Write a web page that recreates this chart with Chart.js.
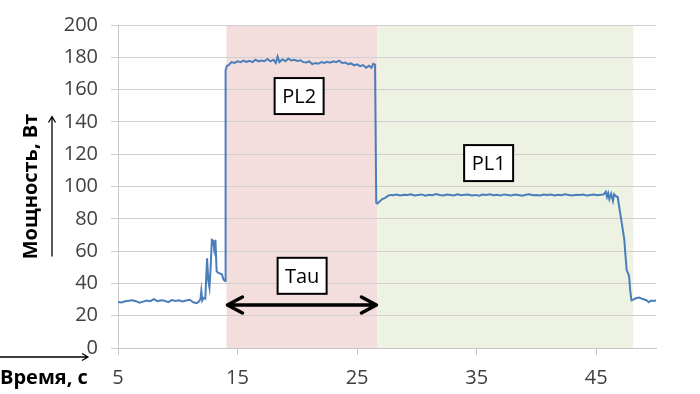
<!DOCTYPE html>
<html>
<head>
<meta charset="utf-8">
<script src="https://cdn.jsdelivr.net/npm/chart.js@4/dist/chart.umd.min.js"></script>
<style>
html,body{margin:0;padding:0;background:#fff;}
#wrap{width:700px;height:394px;}
</style>
</head>
<body>
<div id="wrap"><canvas id="c" width="700" height="394"></canvas></div>
<script>
// ---- data ----
const timeS = [
 5.0,5.3,5.6,5.9,6.2,6.5,6.8,7.1,7.4,7.7,8.0,8.3,8.6,8.9,9.2,9.5,9.8,10.1,10.4,10.7,11.0,11.3,11.6,11.8,
 11.9,11.97,12.05,12.15,12.3,12.45,12.55,12.65,12.75,12.85,12.95,13.05,13.15,13.25,13.4,13.55,13.7,13.82,13.95,
 14.0,14.1,14.3,14.5,14.75,15.0,15.25,15.5,15.75,16.0,16.25,16.5,16.75,17.0,17.25,17.5,17.75,
 18.0,18.2,18.35,18.5,18.75,19.0,19.25,19.5,19.75,20.0,20.25,20.5,20.75,21.0,21.25,21.5,21.75,
 22.0,22.25,22.5,22.75,23.0,23.25,23.5,23.75,24.0,24.25,24.5,24.75,25.0,25.25,25.5,25.75,26.0,26.2,26.35,26.5,
 26.6,26.7,26.9,27.1,27.35,27.6,27.8,
 28.0,28.3,28.6,28.9,29.2,29.5,29.8,30.1,30.4,30.7,31.0,31.3,31.6,31.9,32.2,32.5,32.8,33.1,33.4,33.7,
 34.0,34.3,34.6,34.9,35.2,35.5,35.8,36.1,36.4,36.7,37.0,37.3,37.6,37.9,38.2,38.5,38.8,39.1,39.4,39.7,
 40.0,40.3,40.6,40.9,41.2,41.5,41.8,42.1,42.4,42.7,43.0,43.3,43.6,43.9,44.2,44.5,44.8,45.1,45.4,
 45.6,45.8,45.9,46.0,46.1,46.25,46.4,46.5,46.65,46.8,46.95,47.1,47.25,47.35,47.45,47.55,47.65,47.75,47.85,47.95,
 48.1,48.3,48.6,48.9,49.2,49.4,49.6,49.8,50.0
];
const powerW = [
 28.5,28.2,28.9,29.3,29.6,29.0,28.0,28.7,29.4,29.0,30.3,29.0,29.6,29.2,28.4,29.7,29.1,29.5,28.8,29.4,29.9,28.3,27.8,29.0,
 30.5,35.5,29.5,31.0,30.5,55.5,42.0,37.5,50.0,67.0,66.5,61.0,67.0,47.5,46.5,46.0,45.5,42.5,41.5,
 172,174.5,175.5,177,176.5,177.5,177,178,177.2,177.8,177,178.5,177.5,178,177.6,179,177.5,
 178.5,176.5,180.5,177,178.8,177.5,179.2,178,178.5,177.8,178.2,177,176.8,177.4,175.8,176.5,176,
 177,176.5,177.2,176.7,177.5,177,177.9,176.5,176.8,175.8,176.2,175,175.6,174.5,175.2,173.6,174.8,173.5,176,175.5,
 90,89.5,90.8,92.2,93,94.3,94.8,
 94.6,95.0,94.4,94.9,94.7,95.2,94.5,94.8,95.1,94.3,94.9,94.6,95.3,94.7,94.5,95.0,94.8,94.4,95.2,94.6,
 94.9,95.1,94.5,94.8,94.3,95.0,94.7,95.2,94.6,94.9,94.4,95.1,94.8,94.5,95.0,94.7,94.3,94.9,95.2,94.6,
 94.8,94.4,95.0,94.7,95.1,94.5,94.9,94.6,95.2,94.8,94.4,94.9,94.7,95.0,94.5,94.8,95.1,94.6,94.9,
 95.0,96.8,93.5,95.8,92.2,95.5,91.0,95.2,94.0,93.5,86,79,72,67,57,48,46.5,44.5,35,29.5,
 30,30.8,31.2,30.3,29.6,28.3,29.4,29.1,29.5
];
const xTicks = [5, 15, 25, 35, 45];
const yTickStep = 20;
const bandStart = [14.07, 26.7];
const bandEnd = [26.7, 48.1];
const bandLabels = ['PL2', 'PL1'];
const tauRange = [14.07, 26.7];
const xTitle = 'Время, с';
const yTitle = 'Мощность, Вт';

const FONT = '"Open Sans", "DejaVu Sans", sans-serif';
const bandColors = ['#f4dedd', '#edf2e2'];

const bandsPlugin = {
  id: 'bands',
  beforeDraw(chart) {
    const {ctx, chartArea: a, scales: {x}} = chart;
    ctx.save();
    bandStart.forEach((s, i) => {
      const x0 = x.getPixelForValue(s), x1 = x.getPixelForValue(bandEnd[i]);
      ctx.fillStyle = bandColors[i];
      ctx.fillRect(x0, a.top, x1 - x0, a.bottom - a.top);
    });
    ctx.restore();
  }
};

function box(ctx, cx, cy, text) {
  const w = 49, h = 36;
  ctx.fillStyle = '#fff';
  ctx.fillRect(cx - w/2, cy - h/2, w, h);
  ctx.strokeStyle = '#000';
  ctx.lineWidth = 2;
  ctx.strokeRect(cx - w/2, cy - h/2, w, h);
  ctx.fillStyle = '#000';
  ctx.font = '20px ' + FONT;
  ctx.textAlign = 'center';
  ctx.textBaseline = 'middle';
  ctx.fillText(text, cx, cy + 1);
}

const annotPlugin = {
  id: 'annot',
  afterDatasetsDraw(chart) {
    const {ctx, scales: {x, y}} = chart;
    ctx.save();
    box(ctx, x.getPixelForValue(20.15), y.getPixelForValue(156), bandLabels[0]);
    box(ctx, x.getPixelForValue(36.0), y.getPixelForValue(114.5), bandLabels[1]);
    box(ctx, x.getPixelForValue(20.4), y.getPixelForValue(44.7), 'Tau');
    const ay = y.getPixelForValue(26.6);
    const x0 = x.getPixelForValue(tauRange[0]), x1 = x.getPixelForValue(tauRange[1]);
    ctx.strokeStyle = '#000';
    ctx.lineWidth = 3.5;
    ctx.lineCap = 'round';
    ctx.lineJoin = 'round';
    ctx.beginPath();
    ctx.moveTo(x0 + 1, ay); ctx.lineTo(x1 - 1, ay);
    ctx.moveTo(x0 + 16, ay - 8); ctx.lineTo(x0 + 1, ay); ctx.lineTo(x0 + 16, ay + 8);
    ctx.moveTo(x1 - 16, ay - 8); ctx.lineTo(x1 - 1, ay); ctx.lineTo(x1 - 16, ay + 8);
    ctx.stroke();
    ctx.restore();
  },
  afterDraw(chart) {
    const {ctx, chartArea: a} = chart;
    ctx.save();
    ctx.fillStyle = '#000';
    ctx.strokeStyle = '#000';
    ctx.font = 'bold 20px ' + FONT;
    const cy = (a.top + a.bottom) / 2;
    ctx.save();
    ctx.translate(31, cy);
    ctx.rotate(-Math.PI / 2);
    ctx.textAlign = 'center';
    ctx.textBaseline = 'middle';
    ctx.fillText(yTitle, 0, 0);
    ctx.restore();
    ctx.lineWidth = 1.3;
    ctx.beginPath();
    ctx.moveTo(52, cy + 70); ctx.lineTo(52, cy - 70);
    ctx.moveTo(48.5, cy - 64); ctx.lineTo(52, cy - 70); ctx.lineTo(55.5, cy - 64);
    ctx.stroke();
    ctx.textAlign = 'left';
    ctx.textBaseline = 'middle';
    ctx.fillText(xTitle, 0, 378);
    ctx.beginPath();
    ctx.moveTo(0, 357); ctx.lineTo(88, 357);
    ctx.moveTo(82, 353.5); ctx.lineTo(88, 357); ctx.lineTo(82, 360.5);
    ctx.stroke();
    ctx.restore();
  }
};

const data = timeS.map((t, i) => ({x: t, y: powerW[i]}));

new Chart(document.getElementById('c'), {
  type: 'line',
  data: {
    datasets: [{
      data: data,
      borderColor: '#4a7ebb',
      borderWidth: 2,
      pointRadius: 0,
      tension: 0,
      fill: false
    }]
  },
  options: {
    responsive: false,
    animation: false,
    events: [],
    layout: {padding: {top: 17, right: 44, left: 0, bottom: 0}},
    plugins: {legend: {display: false}, tooltip: {enabled: false}},
    scales: {
      x: {
        type: 'linear',
        min: 5, max: 50,
        afterBuildTicks: s => { s.ticks = xTicks.map(v => ({value: v})); },
        afterFit: s => { s.height = 46; },
        grid: {drawOnChartArea: false, tickLength: 7, color: '#c6c6c6'},
        border: {display: true, color: '#c6c6c6'},
        ticks: {font: {family: FONT, size: 20}, color: '#404040', padding: 11, maxRotation: 0}
      },
      y: {
        min: 0, max: 200,
        afterFit: s => { s.width = 118; },
        grid: {color: '#cfcfcf', tickLength: 7},
        border: {display: true, color: '#c6c6c6'},
        ticks: {stepSize: yTickStep, font: {family: FONT, size: 20}, color: '#404040', padding: 13}
      }
    }
  },
  plugins: [bandsPlugin, annotPlugin]
});
</script>
</body>
</html>
